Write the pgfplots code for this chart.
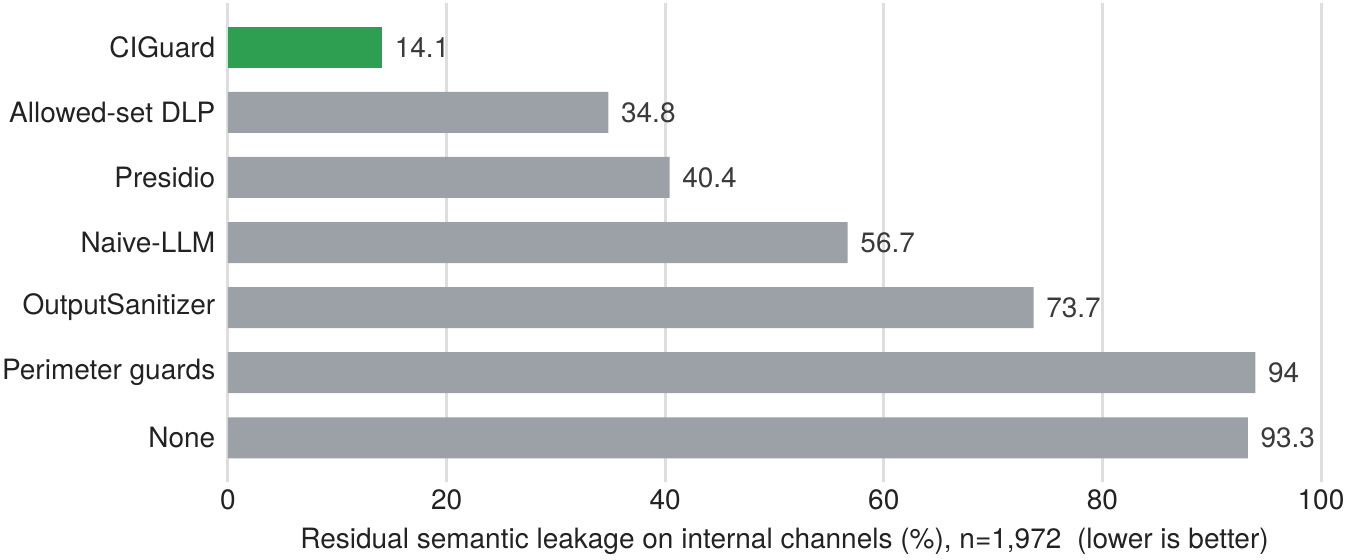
\documentclass[border=0pt]{standalone}
\usepackage{fontspec}
\setmainfont{TeX Gyre Heros}
\usepackage{pgfplots}
\pgfplotsset{compat=1.18}
\definecolor{barGreen}{HTML}{2E9E50}
\definecolor{barGray}{HTML}{9CA0A7}
\definecolor{txt}{HTML}{222222}
\definecolor{valtxt}{HTML}{3A3A3A}
\definecolor{gridc}{HTML}{DEDEDE}
\begin{document}
\begin{tikzpicture}
\fontsize{14pt}{16pt}\selectfont
\begin{axis}[
  scale only axis,
  width=546.5pt, height=239.5pt,
  xbar, bar width=20.5pt, bar shift=0pt,
  xmin=0, xmax=100,
  ymin=-0.68, ymax=6.68,
  ytick={0,1,2,3,4,5,6},
  yticklabels={None,Perimeter guards,OutputSanitizer,Naive-LLM,Presidio,Allowed-set DLP,CIGuard},
  xtick={0,20,40,60,80,100},
  axis line style={draw=none},
  major tick length=0pt,
  xmajorgrids, grid style={gridc, line width=1.5pt},
  ticklabel style={font=\fontsize{14pt}{16pt}\selectfont, text=txt},
  /pgf/number format/assume math mode=true,
  yticklabel style={xshift=-1.5pt},
  xticklabel style={yshift=1pt},
  xlabel={Residual semantic leakage on internal channels (\%), n=1,972\ \ (lower is better)},
  xlabel style={font=\fontsize{14pt}{16pt}\selectfont, text=txt, yshift=0.4pt, xshift=5pt},
  nodes near coords,
  point meta=explicit symbolic,
  every node near coord/.append style={font=\fontsize{14pt}{16pt}\selectfont, text=valtxt, anchor=west, xshift=1.5pt},
  clip=false,
]
\addplot[fill=barGray, draw=none] coordinates {
  (93.3,0) [93.3]
  (94,1) [94]
  (73.7,2) [73.7]
  (56.7,3) [56.7]
  (40.4,4) [40.4]
  (34.8,5) [34.8]
};
\addplot[fill=barGreen, draw=none] coordinates {
  (14.1,6) [14.1]
};
\end{axis}
\pgfresetboundingbox
\path[use as bounding box] ([xshift=-114pt,yshift=-38.5pt]current axis.south west) rectangle ([xshift=14pt,yshift=1.5pt]current axis.north east);
\end{tikzpicture}
\end{document}
